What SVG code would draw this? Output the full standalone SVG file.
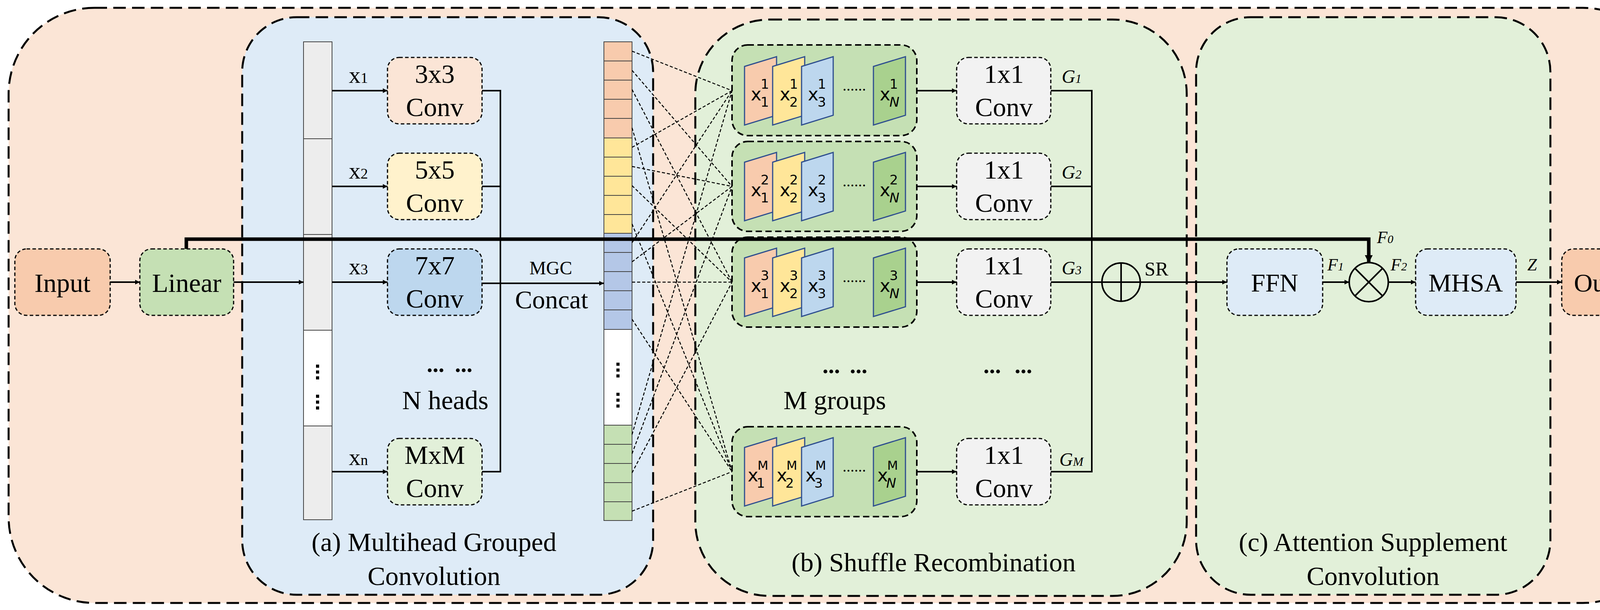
<svg xmlns="http://www.w3.org/2000/svg" width="4294" height="1561" viewBox="0 0 4294 1561">
<style>
.pan{stroke:#000;stroke-width:5;stroke-dasharray:32,16}
.nd{stroke:#000;stroke-width:3;stroke-dasharray:9,6}
.t{font-family:"Liberation Serif",serif;fill:#000}
.ln{stroke:#000;stroke-width:5;fill:none}
.dl{stroke:#000;stroke-width:2.5;stroke-dasharray:8,5;fill:none}
.m{font-family:"DejaVu Sans",sans-serif;fill:#000}
.cell{stroke:#444;stroke-width:2}
.pg{stroke:#2F4F8F;stroke-width:3}
</style>
<defs>
<marker id="a" viewBox="0 0 10 10" refX="9" refY="5" markerWidth="5" markerHeight="5" orient="auto" markerUnits="userSpaceOnUse" style="overflow:visible"><path d="M-20,-12 L4,0 L-20,12 Z" transform="translate(5,5)" fill="#000"/></marker>
<marker id="b" viewBox="0 0 10 10" refX="9" refY="5" markerWidth="5" markerHeight="5" orient="auto" markerUnits="userSpaceOnUse" style="overflow:visible"><path d="M-34,-20 L6,0 L-34,20 Z" transform="translate(5,5)" fill="#000"/></marker>
</defs>
<g id="outer"><rect x="22" y="20" width="4250" height="1523" rx="220" fill="#FBE5D6" class="pan"/></g>
<g id="panel-a"><rect x="620" y="44" width="1052" height="1478" rx="140" fill="#DEEBF7" class="pan"/>
<text class="t" x="1111" y="1410" font-size="68" text-anchor="middle">(a) Multihead Grouped</text>
<text class="t" x="1111" y="1497" font-size="68" text-anchor="middle">Convolution</text></g>
<g id="panel-b"><rect x="1780" y="50" width="1258" height="1475" rx="190" fill="#E2F0D9" class="pan"/>
<text class="t" x="2390" y="1462" font-size="68" text-anchor="middle">(b) Shuffle Recombination</text></g>
<g id="panel-c"><rect x="3062" y="44" width="907" height="1478" rx="140" fill="#E2F0D9" class="pan"/>
<text class="t" x="3515" y="1410" font-size="68" text-anchor="middle">(c) Attention Supplement</text>
<text class="t" x="3515" y="1497" font-size="68" text-anchor="middle">Convolution</text></g>

<g id="input"><rect x="38" y="637" width="244" height="170" rx="30" fill="#F8CBAD" class="nd"/><text class="t" x="160" y="747" font-size="68" text-anchor="middle">Input</text></g>
<g id="linear"><rect x="358" y="637" width="240" height="170" rx="30" fill="#C5E0B4" class="nd"/><text class="t" x="478" y="747" font-size="68" text-anchor="middle">Linear</text></g>

<g id="split-column">
<rect x="777" y="107" width="73" height="248" fill="#EDEDED" class="cell"/>
<rect x="777" y="355" width="73" height="245" fill="#EDEDED" class="cell"/>
<rect x="777" y="600" width="73" height="245" fill="#EDEDED" class="cell"/>
<rect x="777" y="845" width="73" height="245" fill="#FFFFFF" class="cell"/>
<rect x="777" y="1090" width="73" height="240" fill="#EDEDED" class="cell"/>
<g fill="#000"><rect x="809" y="933" width="8" height="8"/><rect x="809" y="948" width="8" height="8"/><rect x="809" y="963" width="8" height="8"/><rect x="809" y="1010" width="8" height="8"/><rect x="809" y="1025" width="8" height="8"/><rect x="809" y="1040" width="8" height="8"/></g>
</g>

<g id="conv3"><rect x="992" y="147" width="242" height="170" rx="30" fill="#FBE5D6" class="nd"/><text class="t" x="1113" y="212" font-size="68" text-anchor="middle">3x3</text><text class="t" x="1113" y="297" font-size="68" text-anchor="middle">Conv</text></g>
<g id="conv5"><rect x="992" y="392" width="242" height="170" rx="30" fill="#FFF2CC" class="nd"/><text class="t" x="1113" y="457" font-size="68" text-anchor="middle">5x5</text><text class="t" x="1113" y="542" font-size="68" text-anchor="middle">Conv</text></g>
<g id="conv7"><rect x="992" y="637" width="242" height="170" rx="30" fill="#BDD7EE" class="nd"/><text class="t" x="1113" y="702" font-size="68" text-anchor="middle">7x7</text><text class="t" x="1113" y="787" font-size="68" text-anchor="middle">Conv</text></g>
<g id="convM"><rect x="992" y="1122" width="242" height="170" rx="30" fill="#E2F0D9" class="nd"/><text class="t" x="1113" y="1187" font-size="68" text-anchor="middle">MxM</text><text class="t" x="1113" y="1272" font-size="68" text-anchor="middle">Conv</text></g>
<g id="a-labels">
<text class="t" x="893" y="212" font-size="60">x<tspan font-size="38">1</tspan></text>
<text class="t" x="893" y="457" font-size="60">x<tspan font-size="38">2</tspan></text>
<text class="t" x="893" y="702" font-size="60">x<tspan font-size="38">3</tspan></text>
<text class="t" x="893" y="1190" font-size="60">x<tspan font-size="38">n</tspan></text>
<text class="t" x="1115" y="952" font-size="60" text-anchor="middle" font-weight="bold">...</text>
<text class="t" x="1187" y="952" font-size="60" text-anchor="middle" font-weight="bold">...</text>
<text class="t" x="1140" y="1047" font-size="68" text-anchor="middle">N heads</text>
<text class="t" x="1410" y="702" font-size="48" text-anchor="middle">MGC</text>
<text class="t" x="1412" y="789" font-size="66" text-anchor="middle">Concat</text>
</g>

<g id="concat-column">
<g fill="#F8CBAD" class="cell"><rect x="1546" y="107" width="72" height="49"/><rect x="1546" y="156" width="72" height="49"/><rect x="1546" y="205" width="72" height="49"/><rect x="1546" y="254" width="72" height="49"/><rect x="1546" y="303" width="72" height="50"/></g>
<g fill="#FFE699" class="cell"><rect x="1546" y="353" width="72" height="49"/><rect x="1546" y="402" width="72" height="49"/><rect x="1546" y="451" width="72" height="49"/><rect x="1546" y="500" width="72" height="49"/><rect x="1546" y="549" width="72" height="48"/></g>
<g fill="#B4C7E7" class="cell"><rect x="1546" y="597" width="72" height="49"/><rect x="1546" y="646" width="72" height="49"/><rect x="1546" y="695" width="72" height="49"/><rect x="1546" y="744" width="72" height="49"/><rect x="1546" y="793" width="72" height="50"/></g>
<rect x="1546" y="843" width="72" height="245" fill="#FFFFFF" class="cell"/>
<g fill="#C5E0B4" class="cell"><rect x="1546" y="1088" width="72" height="49"/><rect x="1546" y="1137" width="72" height="49"/><rect x="1546" y="1186" width="72" height="49"/><rect x="1546" y="1235" width="72" height="49"/><rect x="1546" y="1284" width="72" height="48"/></g>
<g fill="#000"><rect x="1578" y="928" width="8" height="8"/><rect x="1578" y="943" width="8" height="8"/><rect x="1578" y="958" width="8" height="8"/><rect x="1578" y="1005" width="8" height="8"/><rect x="1578" y="1020" width="8" height="8"/><rect x="1578" y="1035" width="8" height="8"/></g>
</g>

<g id="group1"><rect x="1874" y="115" width="473" height="232" rx="40" fill="#C5E0B4" class="pan" style="stroke-width:4;stroke-dasharray:16,9"/>
<polygon points="1906,170 1988,145 1988,295 1906,320" fill="#F8CBAD" class="pg"/><polygon points="1978,170 2060,145 2060,295 1978,320" fill="#FFE699" class="pg"/><polygon points="2052,170 2133,145 2133,295 2052,320" fill="#BDD7EE" class="pg"/><polygon points="2236,170 2318,145 2318,295 2236,320" fill="#A9D18E" class="pg"/>
<text class="m" x="1922" y="257" font-size="46">x<tspan font-size="34" dx="-2" dy="-30">1</tspan><tspan font-size="34" dx="-22" dy="46">1</tspan></text>
<text class="m" x="1996" y="257" font-size="46">x<tspan font-size="34" dx="-2" dy="-30">1</tspan><tspan font-size="34" dx="-22" dy="46">2</tspan></text>
<text class="m" x="2068" y="257" font-size="46">x<tspan font-size="34" dx="-2" dy="-30">1</tspan><tspan font-size="34" dx="-22" dy="46">3</tspan></text>
<text class="m" x="2252" y="257" font-size="46">x<tspan font-size="34" dx="-2" dy="-30">1</tspan><tspan font-size="34" dx="-22" dy="46" font-style="italic">N</tspan></text>
<text class="t" x="2187" y="232" font-size="40" text-anchor="middle">......</text></g>
<g id="group2"><rect x="1874" y="362" width="473" height="230" rx="40" fill="#C5E0B4" class="pan" style="stroke-width:4;stroke-dasharray:16,9"/>
<polygon points="1906,415 1988,390 1988,540 1906,565" fill="#F8CBAD" class="pg"/><polygon points="1978,415 2060,390 2060,540 1978,565" fill="#FFE699" class="pg"/><polygon points="2052,415 2133,390 2133,540 2052,565" fill="#BDD7EE" class="pg"/><polygon points="2236,415 2318,390 2318,540 2236,565" fill="#A9D18E" class="pg"/>
<text class="m" x="1922" y="502" font-size="46">x<tspan font-size="34" dx="-2" dy="-30">2</tspan><tspan font-size="34" dx="-22" dy="46">1</tspan></text>
<text class="m" x="1996" y="502" font-size="46">x<tspan font-size="34" dx="-2" dy="-30">2</tspan><tspan font-size="34" dx="-22" dy="46">2</tspan></text>
<text class="m" x="2068" y="502" font-size="46">x<tspan font-size="34" dx="-2" dy="-30">2</tspan><tspan font-size="34" dx="-22" dy="46">3</tspan></text>
<text class="m" x="2252" y="502" font-size="46">x<tspan font-size="34" dx="-2" dy="-30">2</tspan><tspan font-size="34" dx="-22" dy="46" font-style="italic">N</tspan></text>
<text class="t" x="2187" y="477" font-size="40" text-anchor="middle">......</text></g>
<g id="group3"><rect x="1874" y="607" width="473" height="230" rx="40" fill="#C5E0B4" class="pan" style="stroke-width:4;stroke-dasharray:16,9"/>
<polygon points="1906,660 1988,635 1988,785 1906,810" fill="#F8CBAD" class="pg"/><polygon points="1978,660 2060,635 2060,785 1978,810" fill="#FFE699" class="pg"/><polygon points="2052,660 2133,635 2133,785 2052,810" fill="#BDD7EE" class="pg"/><polygon points="2236,660 2318,635 2318,785 2236,810" fill="#A9D18E" class="pg"/>
<text class="m" x="1922" y="747" font-size="46">x<tspan font-size="34" dx="-2" dy="-30">3</tspan><tspan font-size="34" dx="-22" dy="46">1</tspan></text>
<text class="m" x="1996" y="747" font-size="46">x<tspan font-size="34" dx="-2" dy="-30">3</tspan><tspan font-size="34" dx="-22" dy="46">2</tspan></text>
<text class="m" x="2068" y="747" font-size="46">x<tspan font-size="34" dx="-2" dy="-30">3</tspan><tspan font-size="34" dx="-22" dy="46">3</tspan></text>
<text class="m" x="2252" y="747" font-size="46">x<tspan font-size="34" dx="-2" dy="-30">3</tspan><tspan font-size="34" dx="-22" dy="46" font-style="italic">N</tspan></text>
<text class="t" x="2187" y="722" font-size="40" text-anchor="middle">......</text></g>
<g id="groupM"><rect x="1874" y="1092" width="473" height="230" rx="40" fill="#C5E0B4" class="pan" style="stroke-width:4;stroke-dasharray:16,9"/>
<polygon points="1906,1145 1988,1120 1988,1270 1906,1295" fill="#F8CBAD" class="pg"/><polygon points="1978,1145 2060,1120 2060,1270 1978,1295" fill="#FFE699" class="pg"/><polygon points="2052,1145 2133,1120 2133,1270 2052,1295" fill="#BDD7EE" class="pg"/><polygon points="2236,1145 2318,1120 2318,1270 2236,1295" fill="#A9D18E" class="pg"/>
<text class="m" x="1914" y="1232" font-size="46">x<tspan font-size="32" dx="-2" dy="-30">M</tspan><tspan font-size="34" dx="-30" dy="46">1</tspan></text>
<text class="m" x="1988" y="1232" font-size="46">x<tspan font-size="32" dx="-2" dy="-30">M</tspan><tspan font-size="34" dx="-30" dy="46">2</tspan></text>
<text class="m" x="2062" y="1232" font-size="46">x<tspan font-size="32" dx="-2" dy="-30">M</tspan><tspan font-size="34" dx="-30" dy="46">3</tspan></text>
<text class="m" x="2246" y="1232" font-size="46">x<tspan font-size="32" dx="-2" dy="-30">M</tspan><tspan font-size="34" dx="-30" dy="46" font-style="italic">N</tspan></text>
<text class="t" x="2187" y="1207" font-size="40" text-anchor="middle">......</text></g>

<g id="c1x1-1"><rect x="2449" y="147" width="241" height="170" rx="30" fill="#F2F2F2" class="nd"/><text class="t" x="2570" y="212" font-size="68" text-anchor="middle">1x1</text><text class="t" x="2570" y="297" font-size="68" text-anchor="middle">Conv</text></g>
<g id="c1x1-2"><rect x="2449" y="392" width="241" height="170" rx="30" fill="#F2F2F2" class="nd"/><text class="t" x="2570" y="457" font-size="68" text-anchor="middle">1x1</text><text class="t" x="2570" y="542" font-size="68" text-anchor="middle">Conv</text></g>
<g id="c1x1-3"><rect x="2449" y="637" width="241" height="170" rx="30" fill="#F2F2F2" class="nd"/><text class="t" x="2570" y="702" font-size="68" text-anchor="middle">1x1</text><text class="t" x="2570" y="787" font-size="68" text-anchor="middle">Conv</text></g>
<g id="c1x1-M"><rect x="2449" y="1122" width="241" height="170" rx="30" fill="#F2F2F2" class="nd"/><text class="t" x="2570" y="1187" font-size="68" text-anchor="middle">1x1</text><text class="t" x="2570" y="1272" font-size="68" text-anchor="middle">Conv</text></g>
<g id="b-labels">
<text class="t" x="2128" y="955" font-size="60" text-anchor="middle" font-weight="bold">...</text>
<text class="t" x="2198" y="955" font-size="60" text-anchor="middle" font-weight="bold">...</text>
<text class="t" x="2540" y="955" font-size="60" text-anchor="middle" font-weight="bold">...</text>
<text class="t" x="2620" y="955" font-size="60" text-anchor="middle" font-weight="bold">...</text>
<text class="t" x="2137" y="1047" font-size="68" text-anchor="middle">M groups</text>
<g font-style="italic" font-size="48"><text class="t" x="2718" y="212">G<tspan font-size="32">1</tspan></text><text class="t" x="2718" y="457">G<tspan font-size="32">2</tspan></text><text class="t" x="2718" y="702">G<tspan font-size="32">3</tspan></text><text class="t" x="2712" y="1192">G<tspan font-size="32">M</tspan></text></g>
<text class="t" x="2930" y="705" font-size="50">SR</text>
</g>
<g id="sum"><circle cx="2870" cy="722" r="49" fill="none" stroke="#000" stroke-width="4"/><path d="M2821,722 H2919 M2870,673 V771" stroke="#000" stroke-width="4"/></g>
<g id="ffn"><rect x="3141" y="637" width="245" height="170" rx="30" fill="#DEEBF7" class="nd"/><text class="t" x="3263" y="746" font-size="66" text-anchor="middle">FFN</text></g>
<g id="mul"><circle cx="3504" cy="722" r="50" fill="none" stroke="#000" stroke-width="4"/><path d="M3469,687 L3539,757 M3539,687 L3469,757" stroke="#000" stroke-width="4"/></g>
<g id="mhsa"><rect x="3624" y="637" width="257" height="170" rx="30" fill="#DEEBF7" class="nd"/><text class="t" x="3752" y="746" font-size="66" text-anchor="middle">MHSA</text></g>
<g id="output"><rect x="3998" y="637" width="246" height="170" rx="30" fill="#F8CBAD" class="nd"/><text class="t" x="4121" y="746" font-size="66" text-anchor="middle">Output</text></g>
<g id="c-labels" font-style="italic" font-size="44">
<text class="t" x="3525" y="622">F<tspan font-size="30">0</tspan></text>
<text class="t" x="3398" y="692">F<tspan font-size="30">1</tspan></text>
<text class="t" x="3560" y="692">F<tspan font-size="30">2</tspan></text>
<text class="t" x="3910" y="692">Z</text>
</g>

<g id="connectors">
<line x1="282" y1="722" x2="358" y2="722" class="ln" style="stroke-width:4" marker-end="url(#a)"/>
<line x1="598" y1="722" x2="777" y2="722" class="ln" style="stroke-width:4" marker-end="url(#a)"/>
<line x1="850" y1="232" x2="992" y2="232" class="ln" style="stroke-width:4" marker-end="url(#a)"/>
<line x1="850" y1="477" x2="992" y2="477" class="ln" style="stroke-width:4" marker-end="url(#a)"/>
<line x1="850" y1="722" x2="992" y2="722" class="ln" style="stroke-width:4" marker-end="url(#a)"/>
<line x1="850" y1="1207" x2="992" y2="1207" class="ln" style="stroke-width:4" marker-end="url(#a)"/>
<path d="M1234,232 H1281 V1207 H1234 M1234,477 H1281" class="ln" style="stroke-width:4"/>
<line x1="1234" y1="725" x2="1546" y2="725" class="ln" style="stroke-width:4" marker-end="url(#a)"/>
<path d="M477,637 V612 H3504 V672" class="ln" style="stroke-width:9" marker-end="url(#b)"/>
<g class="dl">
<path d="M1618,131 L1874,232 M1618,180 L1874,477 M1618,229 L1874,722 M1618,327 L1874,1207"/>
<path d="M1618,377 L1874,232 M1618,426 L1874,477 M1618,475 L1874,722 M1618,573 L1874,1207"/>
<path d="M1618,621 L1874,232 M1618,670 L1874,477 M1618,722 L1874,722 M1618,817 L1874,1207"/>
<path d="M1618,1112 L1874,232 M1618,1161 L1874,477 M1618,1210 L1874,722 M1618,1308 L1874,1207"/>
</g>
<line x1="2347" y1="232" x2="2449" y2="232" class="ln" style="stroke-width:4" marker-end="url(#a)"/>
<line x1="2347" y1="477" x2="2449" y2="477" class="ln" style="stroke-width:4" marker-end="url(#a)"/>
<line x1="2347" y1="722" x2="2449" y2="722" class="ln" style="stroke-width:4" marker-end="url(#a)"/>
<line x1="2347" y1="1207" x2="2449" y2="1207" class="ln" style="stroke-width:4" marker-end="url(#a)"/>
<path d="M2690,232 H2795 V1207 H2690 M2690,477 H2795 M2690,722 H2821" class="ln" style="stroke-width:4"/>
<line x1="2919" y1="722" x2="3141" y2="722" class="ln" style="stroke-width:4" marker-end="url(#a)"/>
<line x1="3386" y1="722" x2="3454" y2="722" class="ln" style="stroke-width:4" marker-end="url(#a)"/>
<line x1="3554" y1="722" x2="3624" y2="722" class="ln" style="stroke-width:4" marker-end="url(#a)"/>
<line x1="3881" y1="722" x2="3998" y2="722" class="ln" style="stroke-width:4" marker-end="url(#a)"/>
</g>
</svg>
